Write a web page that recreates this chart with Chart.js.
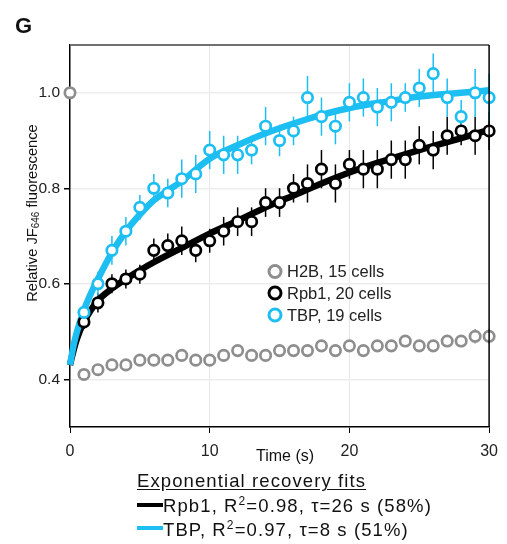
<!DOCTYPE html>
<html><head><meta charset="utf-8">
<script src="https://cdn.jsdelivr.net/npm/chart.js@4.4.1/dist/chart.umd.min.js"></script>
<style>
html,body{margin:0;padding:0;background:#fff;}
#wrap{position:relative;width:507px;height:544px;font-family:"Liberation Sans",Arial,sans-serif;color:#111;}
#c{position:absolute;left:0;top:0;}
.t{position:absolute;white-space:nowrap;}
.leg{font-size:18.5px;letter-spacing:1.1px;line-height:21px;}
</style></head>
<body>
<div id="wrap">
<canvas id="c" width="507" height="544"></canvas>
<div class="t" style="left:15px;top:14px;font-weight:bold;font-size:22px;line-height:24px;">G</div>
<div class="t" style="left:32px;top:213px;transform:translate(-50%,-50%) rotate(-90deg);font-size:14.7px;line-height:16px;">Relative JF<sub style="font-size:10px;vertical-align:-2px;line-height:0;">646</sub> fluorescence</div>
<div class="t" style="left:256px;top:447px;font-size:16px;">Time (s)</div>
<div class="t" style="left:287px;top:261px;font-size:16.5px;line-height:21.8px;color:#222;">H2B, 15 cells<br>Rpb1, 20 cells<br>TBP, 19 cells</div>
<div class="t leg" style="left:137px;top:470px;text-decoration:underline;text-underline-offset:2px;">Exponential recovery fits</div>
<div class="t leg" style="left:163px;top:495px;">Rpb1, R<sup style="font-size:12px;vertical-align:7px;line-height:0;">2</sup>=0.98, τ=26 s (58%)</div>
<div class="t leg" style="left:163px;top:518.5px;">TBP, R<sup style="font-size:12px;vertical-align:7px;line-height:0;">2</sup>=0.97, τ=8 s (51%)</div>
<div style="position:absolute;left:137px;top:502.5px;width:26px;height:4px;background:#000;"></div>
<div style="position:absolute;left:137px;top:526px;width:26px;height:4px;background:#1dbef2;"></div>
</div>
<script>
const timeH2B = [0,1,2,3,4,5,6,7,8,9,10,11,12,13,14,15,16,17,18,19,20,21,22,23,24,25,26,27,28,29,30];
const valH2B  = [1.00,0.41,0.42,0.43,0.43,0.44,0.44,0.44,0.45,0.44,0.44,0.45,0.46,0.45,0.45,0.46,0.46,0.46,0.47,0.46,0.47,0.46,0.47,0.47,0.48,0.47,0.47,0.48,0.48,0.49,0.49];
const errH2B  = [0,0.006,0.006,0.006,0.006,0.006,0.006,0.006,0.006,0.006,0.006,0.006,0.008,0.008,0.008,0.008,0.008,0.008,0.008,0.008,0.008,0.01,0.01,0.01,0.01,0.01,0.01,0.012,0.012,0.015,0.015];

const timeRpb1 = [1,2,3,4,5,6,7,8,9,10,11,12,13,14,15,16,17,18,19,20,21,22,23,24,25,26,27,28,29,30];
const valRpb1  = [0.52,0.56,0.60,0.61,0.62,0.67,0.68,0.69,0.67,0.69,0.71,0.73,0.73,0.77,0.77,0.80,0.81,0.84,0.81,0.85,0.84,0.84,0.86,0.86,0.89,0.88,0.91,0.92,0.91,0.92];
const errRpb1  = [0.015,0.02,0.02,0.02,0.02,0.025,0.025,0.03,0.025,0.025,0.03,0.03,0.03,0.03,0.03,0.03,0.04,0.04,0.04,0.03,0.04,0.04,0.04,0.04,0.04,0.04,0.04,0.03,0.04,0.04];

const timeTBP = [1,2,3,4,5,6,7,8,9,10,11,12,13,14,15,16,17,18,19,20,21,22,23,24,25,26,27,28,29,30];
const valTBP  = [0.54,0.60,0.67,0.71,0.76,0.80,0.79,0.82,0.83,0.88,0.87,0.87,0.88,0.93,0.90,0.92,0.99,0.95,0.93,0.98,0.99,0.97,0.98,0.99,1.01,1.04,0.99,0.95,1.00,0.99];
const errTBP  = [0.02,0.025,0.03,0.03,0.026,0.03,0.03,0.04,0.04,0.04,0.04,0.04,0.03,0.04,0.033,0.03,0.045,0.04,0.038,0.04,0.04,0.04,0.04,0.03,0.04,0.042,0.04,0.035,0.05,0.05];

const fitTimeRpb1 = [0,0.25,0.5,1,1.5,2,3,4,5,6,8,10,12,14,16,18,20,22,25,28,30];
const fitValRpb1  = [0.43,0.46,0.485,0.52,0.545,0.565,0.59,0.61,0.628,0.645,0.675,0.705,0.732,0.76,0.785,0.81,0.833,0.853,0.88,0.905,0.922];
const fitTimeTBP = [0,0.25,0.5,1,1.5,2,3,4,5,6,7,8,10,12,14,17,20,23,25,28,30];
const fitValTBP  = [0.43,0.47,0.50,0.545,0.58,0.61,0.665,0.71,0.745,0.775,0.795,0.815,0.862,0.89,0.915,0.945,0.968,0.983,0.992,1.0,1.005];

const yTicks = [0.4,0.6,0.8,1.0];
const xTicks = [0,10,20,30];

const GRAY='#8e8e8e', BLACK='#000000', CYAN='#1dbef2';
const pts = (xs,ys)=>xs.map((x,i)=>({x:x,y:ys[i]}));

const errorBars = {
  id:'errorBars',
  beforeDatasetsDraw(chart){
    const {ctx, scales:{x,y}} = chart;
    const sets=[[timeH2B,valH2B,errH2B,GRAY],[timeRpb1,valRpb1,errRpb1,BLACK],[timeTBP,valTBP,errTBP,CYAN]];
    ctx.save();
    ctx.lineWidth=1.5;
    sets.forEach(([t,v,e,c])=>{
      ctx.strokeStyle=c;
      t.forEach((ti,i)=>{
        if(!e[i]) return;
        const px=x.getPixelForValue(ti);
        ctx.beginPath();
        ctx.moveTo(px,y.getPixelForValue(v[i]-e[i]));
        ctx.lineTo(px,y.getPixelForValue(v[i]+e[i]));
        ctx.stroke();
      });
    });
    ctx.restore();
  }
};

const frameAndLegend = {
  id:'frameAndLegend',
  afterDraw(chart){
    const {ctx, chartArea:a} = chart;
    ctx.save();
    ctx.strokeStyle='#707070'; ctx.lineWidth=2;
    ctx.beginPath(); ctx.moveTo(a.left,a.top); ctx.lineTo(a.right,a.top); ctx.stroke();
    ctx.strokeStyle='#000'; ctx.lineWidth=1.5;
    ctx.beginPath(); ctx.moveTo(a.right,a.top); ctx.lineTo(a.right,a.bottom); ctx.stroke();
    const marks=[[GRAY,271.5],[BLACK,293],[CYAN,315]];
    marks.forEach(([c,yy])=>{
      ctx.beginPath(); ctx.arc(275,yy,6,0,Math.PI*2);
      ctx.fillStyle='#fff'; ctx.fill();
      ctx.strokeStyle=c; ctx.lineWidth=3; ctx.stroke();
    });
    ctx.restore();
  }
};

const ptStyle = c=>({type:'scatter',showLine:false,borderColor:c,backgroundColor:'#fff',pointRadius:5.2,pointBorderWidth:2.7,pointHoverRadius:5.2,clip:false});

new Chart(document.getElementById('c'),{
  type:'scatter',
  data:{datasets:[
    {label:'Rpb1 fit',data:pts(fitTimeRpb1,fitValRpb1),showLine:true,borderColor:BLACK,borderWidth:6.5,pointRadius:0,cubicInterpolationMode:'monotone',clip:false,order:5},
    {label:'TBP fit',data:pts(fitTimeTBP,fitValTBP),showLine:true,borderColor:CYAN,borderWidth:6.5,pointRadius:0,cubicInterpolationMode:'monotone',clip:false,order:4},
    Object.assign({label:'H2B',data:pts(timeH2B,valH2B)},ptStyle(GRAY),{order:3}),
    Object.assign({label:'Rpb1',data:pts(timeRpb1,valRpb1)},ptStyle(BLACK),{order:2}),
    Object.assign({label:'TBP',data:pts(timeTBP,valTBP)},ptStyle(CYAN),{order:1}),
  ]},
  options:{
    responsive:false,animation:false,
    layout:{padding:{left:0,top:45,right:17,bottom:0}},
    plugins:{legend:{display:false},tooltip:{enabled:false}},
    scales:{
      x:{type:'linear',min:0,max:30,
        afterFit(s){s.height=117;},
        afterBuildTicks(s){s.ticks=xTicks.map(v=>({value:v}));},
        ticks:{color:'#222',font:{family:'Liberation Sans',size:16},padding:9,callback:v=>String(v)},
        grid:{color:ctx=>(ctx.tick&&(ctx.tick.value===0||ctx.tick.value===30))?'rgba(0,0,0,0)':'#e6e6e6',lineWidth:1,tickColor:'#000',tickLength:6,drawTicks:true},
        border:{color:'#000',width:1.5}
      },
      y:{type:'linear',min:0.3,max:1.1,
        afterFit(s){s.width=70;},
        afterBuildTicks(s){s.ticks=yTicks.map(v=>({value:v}));},
        ticks:{color:'#222',font:{family:'Liberation Sans',size:15.5},padding:4,callback:v=>v.toFixed(1)},
        grid:{color:'#ededed',lineWidth:1.5,tickColor:'#000',tickLength:6},
        border:{color:'#000',width:1.5}
      }
    }
  },
  plugins:[errorBars,frameAndLegend]
});
</script>
</body></html>
